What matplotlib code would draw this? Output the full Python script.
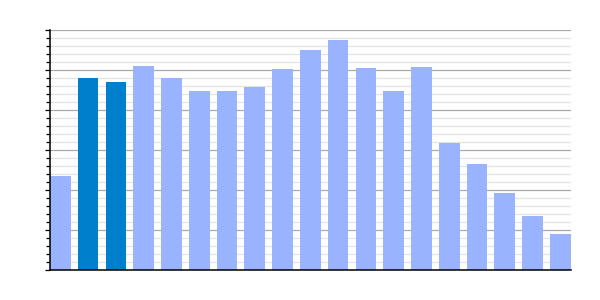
import matplotlib
matplotlib.use('Agg')
import matplotlib.pyplot as plt
from matplotlib.ticker import MultipleLocator, NullFormatter

# bar heights (axis 0..60)
values = [23.5, 48, 47, 51, 48, 44.75, 44.75, 45.75, 50.25, 55,
          57.5, 50.5, 44.75, 50.75, 31.75, 26.5, 19.25, 13.5, 9]
highlight = [1, 2]

dark = '#007fcc'
light = '#99b3ff'
colors = [dark if i in highlight else light for i in range(len(values))]

fig = plt.figure(figsize=(6, 3), dpi=100)
ax = fig.add_axes([50 / 600, 0.1, 520.7 / 600, 0.8])

x = list(range(len(values)))
w = 0.746
ax.bar(x, values, width=w, color=colors, zorder=3)

ax.set_xlim(-w / 2, len(values) - 1 + w / 2)
ax.set_ylim(0, 60)
ax.yaxis.set_major_locator(MultipleLocator(10))
ax.yaxis.set_minor_locator(MultipleLocator(2))
ax.yaxis.set_major_formatter(NullFormatter())
ax.set_xticks([])

ax.grid(which='minor', axis='y', color='#e3e3e3', linewidth=0.9, zorder=0)
ax.grid(which='major', axis='y', color='#aaaaaa', linewidth=0.9, zorder=1)
ax.tick_params(axis='y', which='major', length=3.6, width=0.9, color='black')
ax.tick_params(axis='y', which='minor', length=2.9, width=0.9, color='black')

for s in ['top', 'right']:
    ax.spines[s].set_visible(False)
for s in ['left', 'bottom']:
    ax.spines[s].set_linewidth(1.1)
    ax.spines[s].set_zorder(4)

fig.savefig('out.png', dpi=100)
